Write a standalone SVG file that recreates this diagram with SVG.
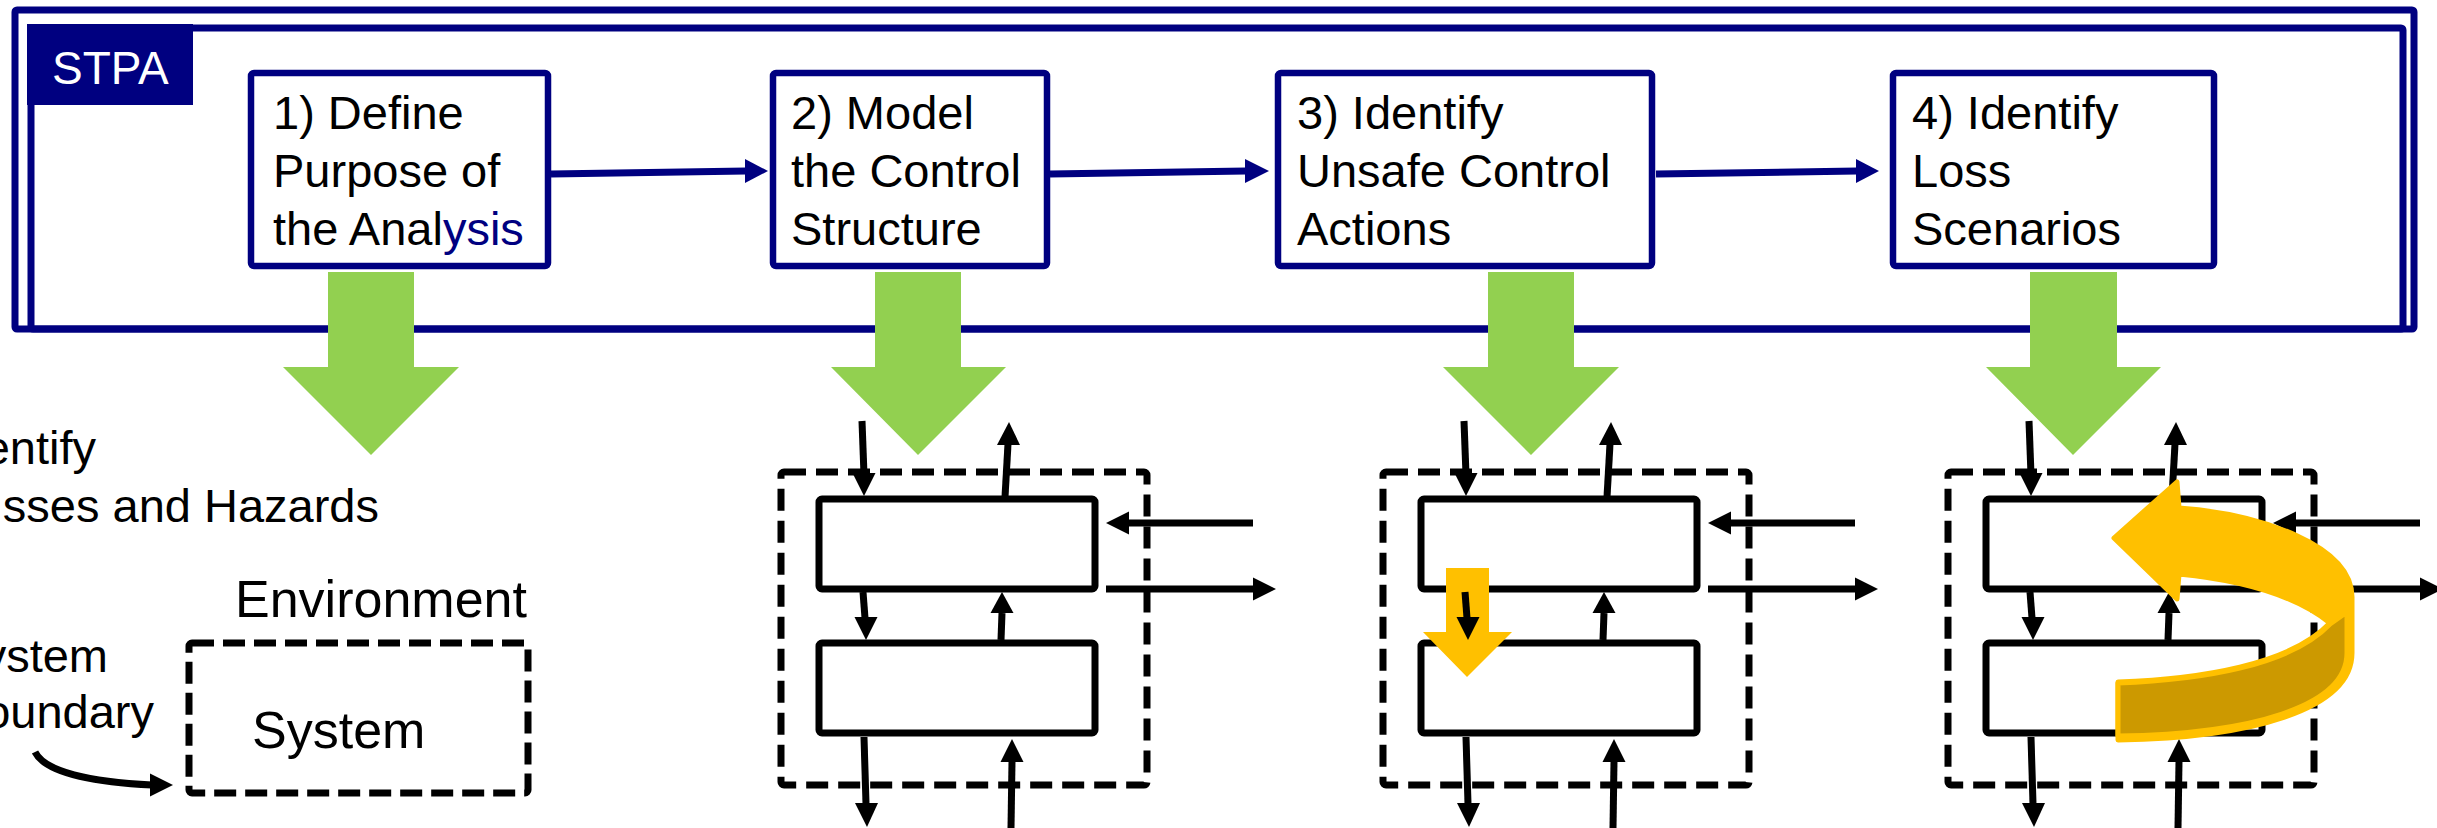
<svg xmlns="http://www.w3.org/2000/svg" width="2437" height="828" viewBox="0 0 2437 828">
<style>
.t{font-family:"Liberation Sans",Arial,sans-serif;font-size:47px;fill:#000}
.big{font-size:52px}
.frame{fill:none;stroke:#000080;stroke-width:7}
.step{fill:#fff;stroke:#000080;stroke-width:6.5}
.nav{stroke:#000080;stroke-width:7;fill:none}
.navh{fill:#000080}
.blk{stroke:#000;stroke-width:7;fill:none}
.bh{fill:#000}
.dash{fill:none;stroke:#000;stroke-width:7;stroke-dasharray:22 10}
.cbox{fill:#fff;stroke:#000;stroke-width:7}
.green{fill:#92D050}
.yel{fill:#FFC000}
</style>
<defs>
<g id="cs-base">
<rect class="dash" x="781" y="472" width="366" height="313" rx="3"/>
<rect class="cbox" x="819" y="499" width="276" height="90" rx="3"/>
<rect class="cbox" x="819" y="643" width="276" height="90" rx="3"/>
<path class="blk" d="M862,421 L864,475"/>
<polygon class="bh" points="852.5,473 875.5,473 864,496"/>
<path class="blk" d="M1005,497 L1008,444"/>
<polygon class="bh" points="997,445 1020,445 1009,422"/>
<path class="blk" d="M1253,523 L1128,523"/>
<polygon class="bh" points="1129,511.5 1129,534.5 1106,523"/>
<path class="blk" d="M1106,589 L1254,589"/>
<polygon class="bh" points="1253,577.5 1253,600.5 1276,589"/>
<path class="blk" d="M1001,640 L1002,613"/>
<polygon class="bh" points="990.5,613 1013.5,613 1002,592"/>
<path class="blk" d="M864,737 L866,804"/>
<polygon class="bh" points="855,803 878,803 867,827"/>
<path class="blk" d="M1011,828 L1012,761"/>
<polygon class="bh" points="1000.5,762 1023.5,762 1012,739"/>
</g>
<g id="cs-down">
<path class="blk" d="M863,592 L865,618"/>
<polygon class="bh" points="854.5,617 877.5,617 866,640"/>
</g>
</defs>

<g id="stpa-frame">
<rect class="frame" x="15" y="10" width="2399" height="319" rx="2"/>
<rect class="frame" x="31" y="28" width="2372" height="301" rx="2"/>
<rect x="27" y="24" width="166" height="81" fill="#000080"/>
<text class="t" x="52" y="84" style="font-size:46px;fill:#fff">STPA</text>
</g>

<g id="step1">
<rect class="step" x="251" y="73" width="297" height="193" rx="3"/>
<text class="t" x="273" y="129">1) Define</text>
<text class="t" x="273" y="187">Purpose of</text>
<text class="t" x="273" y="245">the Anal<tspan fill="#000080">ysis</tspan></text>
</g>
<g id="step2">
<rect class="step" x="773" y="73" width="274" height="193" rx="3"/>
<text class="t" x="791" y="129">2) Model</text>
<text class="t" x="791" y="187">the Control</text>
<text class="t" x="791" y="245">Structure</text>
</g>
<g id="step3">
<rect class="step" x="1278" y="73" width="374" height="193" rx="3"/>
<text class="t" x="1297" y="129">3) Identify</text>
<text class="t" x="1297" y="187">Unsafe Control</text>
<text class="t" x="1297" y="245">Actions</text>
</g>
<g id="step4">
<rect class="step" x="1893" y="73" width="321" height="193" rx="3"/>
<text class="t" x="1912" y="129">4) Identify</text>
<text class="t" x="1912" y="187">Loss</text>
<text class="t" x="1912" y="245">Scenarios</text>
</g>

<g id="connectors">
<path class="nav" d="M551,174 L746,171"/>
<polygon class="navh" points="745,159 745,183 768,171"/>
<path class="nav" d="M1050,174 L1246,171"/>
<polygon class="navh" points="1245,159 1245,183 1269,171"/>
<path class="nav" d="M1656,174 L1857,171"/>
<polygon class="navh" points="1856,159 1856,183 1879,171"/>
</g>

<g id="green-arrows">
<polygon class="green" points="328,272 414,272 414,367 459,367 371,455 283,367 328,367"/>
<polygon class="green" points="875,272 961,272 961,367 1006,367 918,455 831,367 875,367"/>
<polygon class="green" points="1488,272 1574,272 1574,367 1619,367 1531,455 1443,367 1488,367"/>
<polygon class="green" points="2030,272 2117,272 2117,367 2161,367 2073,455 1986,367 2030,367"/>
</g>

<g id="result1">
<text class="t" x="96" y="464" text-anchor="end">entify</text>
<text class="t" x="379" y="522" text-anchor="end">sses and Hazards</text>
<text class="t big" x="235" y="617">Environment</text>
<text class="t" x="108" y="672" text-anchor="end">ystem</text>
<text class="t" x="154" y="728" text-anchor="end">oundary</text>
<rect fill="none" stroke="#000" stroke-width="7" stroke-dasharray="22 9" x="189" y="643" width="339" height="150" rx="3"/>
<text class="t big" x="252" y="748">System</text>
<path class="blk" stroke-width="6" d="M35,752 C45,772 90,782 152,785"/>
<polygon class="bh" points="150,773.5 150,796.5 173,785"/>
</g>

<g id="result2">
<use href="#cs-base"/>
<use href="#cs-down"/>
</g>

<g id="result3">
<use href="#cs-base" transform="translate(602,0)"/>
<polygon class="yel" points="1446,568 1489,568 1489,632 1512,632 1467,677 1423,632 1446,632"/>
<use href="#cs-down" transform="translate(602,0)"/>
</g>

<g id="result4">
<use href="#cs-base" transform="translate(1167,0)"/>
<use href="#cs-down" transform="translate(1167,0)"/>
<path fill="#FFC000" stroke="#FFC000" stroke-width="5" stroke-linejoin="round" d="M2114,538 L2177,482 L2179,508 C2260,514 2352,545 2352,597 L2352,653 C2352,710 2250,738 2118,740 L2118,682 C2200,679 2290,665 2330,623 C2295,595 2240,580 2179,574 L2177,599 Z"/>
<path fill="#CC9900" stroke="#FFC000" stroke-width="5" stroke-linejoin="round" d="M2118,683 C2200,680 2290,666 2330,624 L2347,612 L2347,653 C2347,707 2250,734 2118,736 Z"/>
</g>
</svg>
